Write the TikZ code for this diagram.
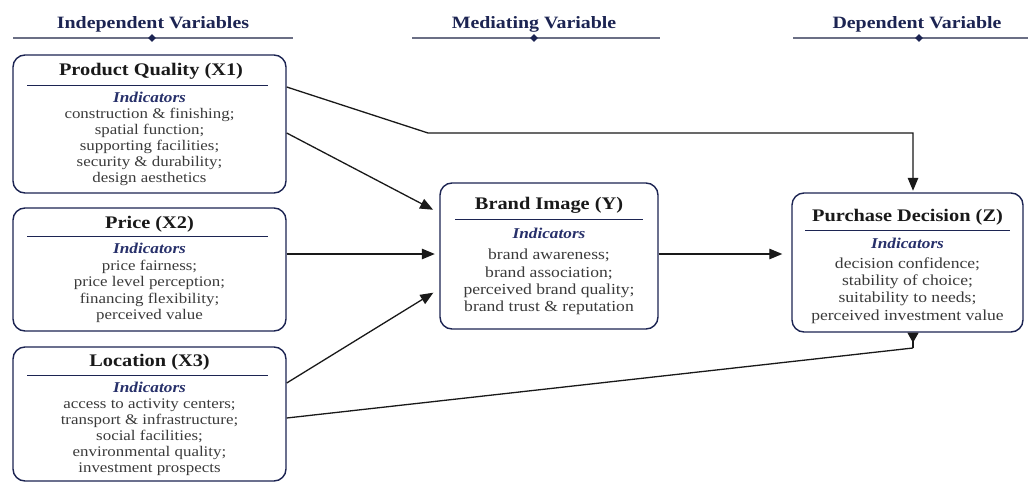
\documentclass[tikz,border=0pt]{standalone}
\usepackage{fontspec}
\setmainfont{Liberation Serif}[FakeStretch=1.15]
\usetikzlibrary{arrows.meta,shapes.geometric,calc}
\definecolor{navy}{HTML}{1C2452}
\definecolor{indc}{HTML}{27306A}
\definecolor{bodyc}{HTML}{3A3A3A}
\definecolor{rulec}{HTML}{6B6F85}
\tikzset{
  varbox/.style={draw=navy, line width=1.4pt, rounded corners=12pt, inner sep=0pt},
  hdr/.style={font=\fontsize{17.3}{17.3}\selectfont\bfseries, text=navy, inner sep=0pt},
  ttl/.style={font=\fontsize{17.7}{17.7}\selectfont\bfseries, text=black!90, inner sep=0pt},
  ind/.style={font=\fontsize{15}{15}\selectfont\bfseries\itshape, text=indc, inner sep=0pt},
  bodyx/.style={font=\fontsize{14.7}{16}\selectfont, text=bodyc, align=center, inner sep=0pt, anchor=north},
  bodyy/.style={font=\fontsize{15.3}{17.2}\selectfont, text=bodyc, align=center, inner sep=0pt, anchor=north},
  hrule/.style={draw=rulec, line width=1.2pt},
  irule/.style={draw=navy, line width=1pt},
  dmd/.style={diamond, fill=navy, inner sep=0pt, minimum size=8pt},
  conn/.style={draw=black!90, line width=1.3pt, -{Triangle[length=13pt,width=10.5pt]}},
}
\begin{document}
\begin{tikzpicture}[x=1pt,y=-1pt]
\useasboundingbox (0,0) rectangle (1028,482);
% headers
\node[hdr] (h1) at (153,24) {Independent Variables};
\node[hdr] (h2) at (534,24) {Mediating Variable};
\node[hdr] (h3) at (917,24) {Dependent Variable};
\draw[hrule] (13,38) -- (293,38);
\draw[hrule] (412,38) -- (660,38);
\draw[hrule] (793,38) -- (1028,38);
\node[dmd] (d1) at (152,38) {};
\node[dmd] (d2) at (534,38) {};
\node[dmd] (d3) at (919,38) {};
% boxes
\node[varbox, minimum width=273pt, minimum height=138pt] (X1) at (149.5,124) {};
\node[varbox, minimum width=273pt, minimum height=123pt] (X2) at (149.5,269.5) {};
\node[varbox, minimum width=273pt, minimum height=134pt] (X3) at (149.5,414) {};
\node[varbox, minimum width=218pt, minimum height=146pt] (Y) at (549,256) {};
\node[varbox, minimum width=231pt, minimum height=139pt] (Z) at (907.5,262.5) {};
% X1
\node[ttl] (x1t) at (151,71) {Product Quality (X1)};
\draw[irule] (27,85) -- (268,85);
\node[ind] (x1i) at (149.5,97) {Indicators};
\node[bodyx] (x1b) at (149.5,108) {construction \& finishing;\\spatial function;\\supporting facilities;\\security \& durability;\\design aesthetics};
% X2
\node[ttl] (x2t) at (149.5,224) {Price (X2)};
\draw[irule] (27,236) -- (268,236);
\node[ind] (x2i) at (149.5,248.5) {Indicators};
\node[bodyx, font=\fontsize{14.7}{16.6}\selectfont] (x2b) at (149.5,259.5) {price fairness;\\price level perception;\\financing flexibility;\\perceived value};
% X3
\node[ttl] (x3t) at (149.5,362) {Location (X3)};
\draw[irule] (27,375) -- (268,375);
\node[ind] (x3i) at (149.5,387) {Indicators};
\node[bodyx] (x3b) at (149.5,398.5) {access to activity centers;\\transport \& infrastructure;\\social facilities;\\environmental quality;\\investment prospects};
% Y
\node[ttl] (yt) at (549,205) {Brand Image (Y)};
\draw[irule] (455,219) -- (643,219);
\node[ind] (yi) at (549,233.5) {Indicators};
\node[bodyy] (yb) at (549,249) {brand awareness;\\brand association;\\perceived brand quality;\\brand trust \& reputation};
% Z
\node[ttl] (zt) at (907.5,217.5) {Purchase Decision (Z)};
\draw[irule] (805,230) -- (1010,230);
\node[ind] (zi) at (907.5,243.5) {Indicators};
\node[bodyy] (zb) at (907.5,257.5) {decision confidence;\\stability of choice;\\suitability to needs;\\perceived investment value};
% connectors
\coordinate (k1) at (428,133);
\coordinate (k2) at (913,133);
\coordinate (c3) at (913,348);
\draw[conn, shorten >=1.5pt] (X1.east |- 0,87) -- (k1) -- (k2) -- (913,0 |- Z.north);
\draw[conn, shorten >=7pt] (X1.east |- 0,133) -- (Y.west |- 0,213);
\draw[conn, shorten >=4.5pt] (X2.east |- 0,254) -- (Y.west |- 0,254);
\draw[conn, shorten >=7pt] (X3.east |- 0,383) -- (Y.west |- 0,289);
\draw[line width=1.3pt, draw=black!90] (X3.east |- 0,418) -- (c3);
\draw[line width=1.3pt, draw=black!90, -{Triangle[reversed,length=10pt,width=11pt]}] (c3) -- (913,0 |- Z.south);
\draw[conn, shorten >=9pt] (Y.east |- 0,254) -- (Z.west |- 0,254);
\end{tikzpicture}
\end{document}
